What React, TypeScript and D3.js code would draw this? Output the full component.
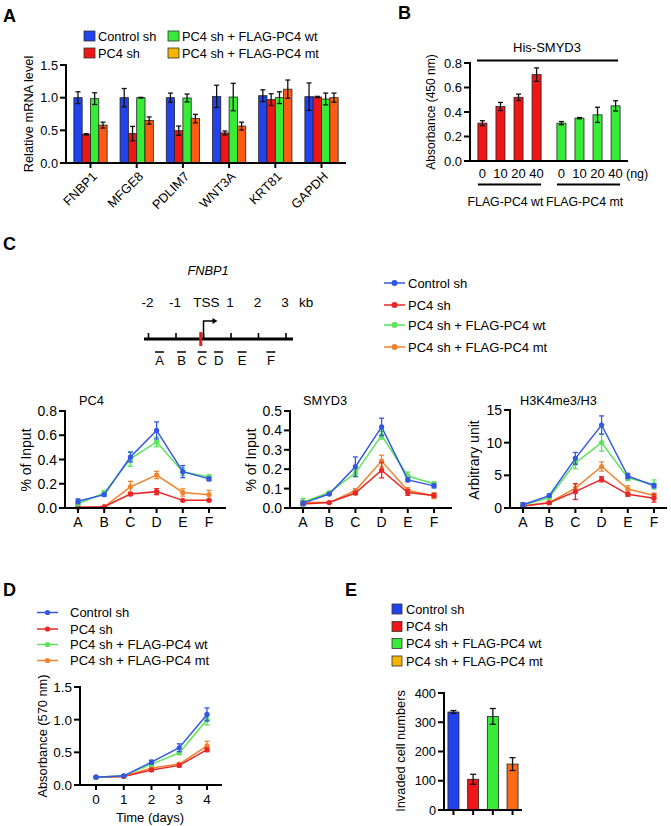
import React from 'react';
import * as d3 from 'd3';

const FONT = '"Liberation Sans", Arial, Helvetica, sans-serif';

// ---------- shared ----------
const groupNames = ['Control sh', 'PC4 sh', 'PC4 sh + FLAG-PC4 wt', 'PC4 sh + FLAG-PC4 mt'];
const barColors = ['#2242ee', '#ee1616', '#36ec36', '#ff5a16'];
const swatchColors = ['#2242ee', '#ee1616', '#36ec36', '#f6b400'];
const lineColors = ['#3456e4', '#ea2626', '#5ae45a', '#f2832e'];

// ---------- panel A ----------
const genes = ['FNBP1', 'MFGE8', 'PDLIM7', 'WNT3A', 'KRT81', 'GAPDH'];
const aControl = [1.0, 1.0, 1.0, 1.02, 1.03, 1.015];
const aControlErr = [0.09, 0.14, 0.07, 0.17, 0.09, 0.21];
const aPC4 = [0.44, 0.45, 0.495, 0.46, 0.97, 1.01];
const aPC4Err = [0.01, 0.11, 0.07, 0.03, 0.09, 0.01];
const aWt = [0.985, 1.0, 0.995, 1.01, 1.0, 0.98];
const aWtErr = [0.09, 0.005, 0.06, 0.21, 0.09, 0.09];
const aMt = [0.58, 0.65, 0.68, 0.565, 1.13, 1.0];
const aMtErr = [0.045, 0.055, 0.065, 0.06, 0.14, 0.07];
const aTicks = [0, 0.5, 1.0, 1.5];

// ---------- panel B ----------
const bDoses = ['0', '10', '20', '40'];
const bGroups = ['FLAG-PC4 wt', 'FLAG-PC4 mt'];
const bWt = [0.309, 0.445, 0.52, 0.705];
const bWtErr = [0.02, 0.033, 0.026, 0.055];
const bMt = [0.309, 0.35, 0.377, 0.45];
const bMtErr = [0.013, 0.005, 0.062, 0.042];
const bTicks = [0, 0.2, 0.4, 0.6, 0.8];

// ---------- panel C ----------
const regions = ['A', 'B', 'C', 'D', 'E', 'F'];
const regionKb = [-1.6, -0.8, -0.05, 0.55, 1.4, 2.45];
const kbTicks = [-2, -1, 0, 1, 2, 3];
const kbLabels = ['-2', '-1', 'TSS', '1', '2', '3'];

const pc4Control = [0.055, 0.11, 0.42, 0.64, 0.3, 0.24];
const pc4ControlErr = [0.02, 0.012, 0.04, 0.07, 0.05, 0.015];
const pc4PC4 = [0.005, 0.01, 0.115, 0.135, 0.063, 0.063];
const pc4PC4Err = [0.005, 0.005, 0.012, 0.025, 0.006, 0.005];
const pc4Wt = [0.035, 0.125, 0.405, 0.545, 0.3, 0.255];
const pc4WtErr = [0.015, 0.02, 0.06, 0.04, 0.03, 0.02];
const pc4Mt = [0.008, 0.01, 0.175, 0.272, 0.128, 0.11];
const pc4MtErr = [0.008, 0.005, 0.045, 0.03, 0.03, 0.035];
const pc4Ticks = [0, 0.2, 0.4, 0.6, 0.8];

const smControl = [0.025, 0.072, 0.213, 0.418, 0.145, 0.114];
const smControlErr = [0.01, 0.005, 0.05, 0.045, 0.01, 0.01];
const smPC4 = [0.02, 0.028, 0.077, 0.195, 0.08, 0.065];
const smPC4Err = [0.005, 0.004, 0.008, 0.04, 0.015, 0.01];
const smWt = [0.03, 0.08, 0.18, 0.375, 0.165, 0.125];
const smWtErr = [0.02, 0.005, 0.02, 0.02, 0.02, 0.01];
const smMt = [0.03, 0.028, 0.09, 0.242, 0.09, 0.063];
const smMtErr = [0.01, 0.004, 0.01, 0.03, 0.015, 0.015];
const smTicks = [0, 0.1, 0.2, 0.3, 0.4, 0.5];

const hkControl = [0.5, 1.9, 7.6, 12.7, 4.9, 3.4];
const hkControlErr = [0.3, 0.2, 0.9, 1.4, 0.4, 0.3];
const hkPC4 = [0.3, 0.8, 2.5, 4.4, 2.1, 1.5];
const hkPC4Err = [0.2, 0.2, 1.2, 0.4, 0.3, 0.6];
const hkWt = [0.4, 1.6, 6.9, 10.0, 4.6, 3.6];
const hkWtErr = [0.3, 0.2, 0.9, 1.3, 0.4, 0.7];
const hkMt = [0.3, 0.8, 3.05, 6.35, 2.9, 1.9];
const hkMtErr = [0.5, 0.2, 0.7, 0.7, 0.5, 0.4];
const hkTicks = [0, 5, 10, 15];

// ---------- panel D ----------
const days = [0, 1, 2, 3, 4];
const dControl = [0.12, 0.14, 0.35, 0.57, 1.08];
const dControlErr = [0.01, 0.01, 0.03, 0.06, 0.1];
const dPC4 = [0.12, 0.13, 0.23, 0.3, 0.54];
const dPC4Err = [0.01, 0.01, 0.02, 0.02, 0.03];
const dWt = [0.12, 0.14, 0.32, 0.49, 1.0];
const dWtErr = [0.01, 0.01, 0.03, 0.02, 0.08];
const dMt = [0.12, 0.13, 0.26, 0.32, 0.6];
const dMtErr = [0.01, 0.01, 0.02, 0.02, 0.07];
const dTicks = [0, 0.5, 1.0, 1.5];

// ---------- panel E ----------
const eValues = [335, 105, 320, 157];
const eErr = [5, 17, 27, 22];
const eTicks = [0, 100, 200, 300, 400];

// ---------- helpers ----------
function YAxis({ x, scale, ticks, fmt, fontSize, tickLen = 6 }: any) {
  const [y0, y1] = scale.range();
  return (
    <g>
      <line x1={x} x2={x} y1={y0 + 1} y2={y1 - 1} stroke="#000" strokeWidth={2} />
      {ticks.map((t: number) => (
        <g key={t}>
          <line x1={x - tickLen} x2={x} y1={scale(t)} y2={scale(t)} stroke="#000" strokeWidth={2} />
          <text x={x - tickLen - 2} y={scale(t)} dy="0.36em" textAnchor="end" fontSize={fontSize}>
            {fmt(t)}
          </text>
        </g>
      ))}
    </g>
  );
}

function ErrBar({ x, lo, hi, w = 5, color = '#000', sw = 1.3 }: any) {
  return (
    <g stroke={color} strokeWidth={sw}>
      <line x1={x} x2={x} y1={lo} y2={hi} />
      <line x1={x - w / 2} x2={x + w / 2} y1={lo} y2={lo} />
      <line x1={x - w / 2} x2={x + w / 2} y1={hi} y2={hi} />
    </g>
  );
}

function VLabel({ x, y, text, fontSize }: any) {
  return (
    <text transform={`translate(${x},${y}) rotate(-90)`} textAnchor="middle" fontSize={fontSize}>
      {text}
    </text>
  );
}

function PanelLetter({ x, y, t }: any) {
  return (
    <text x={x} y={y} fontSize={18} fontWeight="bold">
      {t}
    </text>
  );
}

// ---------- Panel A ----------
function PanelA() {
  const y = d3.scaleLinear().domain([0, 1.5]).range([163, 65]);
  const xg = d3.scaleBand().domain(genes).range([66, 346]).paddingInner(0.28).paddingOuter(0.17);
  const xi = d3.scaleBand().domain(groupNames).range([0, xg.bandwidth()]);
  const vals = [aControl, aPC4, aWt, aMt];
  const errs = [aControlErr, aPC4Err, aWtErr, aMtErr];
  return (
    <g>
      <PanelLetter x={3} y={22} t="A" />
      {[0, 1].map((c) =>
        [0, 1].map((r) => {
          const k = c * 2 + r;
          const lx = c === 0 ? 84 : 168;
          const ly = r === 0 ? 36 : 53;
          return (
            <g key={k}>
              <rect x={lx} y={ly - 5} width={11} height={10} fill={swatchColors[k]} stroke="#333" strokeWidth={0.8} />
              <text x={lx + 14} y={ly} dy="0.36em" fontSize={12.8}>
                {groupNames[k]}
              </text>
            </g>
          );
        })
      )}
      {genes.map((g, gi) =>
        groupNames.map((s, si) => {
          const bx = (xg(g) as number) + (xi(s) as number);
          const w = xi.bandwidth();
          const v = vals[si][gi];
          const e = errs[si][gi];
          return (
            <g key={g + s}>
              <rect x={bx} y={y(v)} width={w} height={y(0) - y(v)} fill={barColors[si]} stroke="#222" strokeWidth={0.8} />
              <ErrBar x={bx + w / 2} lo={y(v - e)} hi={y(v + e)} w={5} color="#111" />
            </g>
          );
        })
      )}
      <YAxis x={66} scale={y} ticks={aTicks} fmt={d3.format('.1f')} fontSize={12.8} />
      <line x1={65} x2={346} y1={y(0)} y2={y(0)} stroke="#000" strokeWidth={2} />
      {genes.map((g) => {
        const cx = (xg(g) as number) + xg.bandwidth() / 2;
        return (
          <g key={g}>
            <line x1={cx} x2={cx} y1={y(0)} y2={y(0) + 5} stroke="#000" strokeWidth={2} />
            <text transform={`translate(${cx + 4},${174}) rotate(-45)`} textAnchor="end" dy="0.36em" fontSize={12.8}>
              {g}
            </text>
          </g>
        );
      })}
      <VLabel x={33} y={114} text="Relative mRNA level" fontSize={12.8} />
    </g>
  );
}

// ---------- Panel B ----------
function PanelB() {
  const y = d3.scaleLinear().domain([0, 0.8]).range([161, 63]);
  const xg = d3.scaleBand().domain(bGroups).range([470, 628]).paddingInner(0.2).paddingOuter(0.1);
  const xi = d3.scaleBand().domain(bDoses).range([0, xg.bandwidth()]).paddingInner(0.5).paddingOuter(0);
  const vals = [bWt, bMt];
  const errs = [bWtErr, bMtErr];
  const cols = [barColors[1], barColors[2]];
  return (
    <g>
      <PanelLetter x={398} y={19} t="B" />
      <text x={547} y={52} textAnchor="middle" fontSize={13}>
        His-SMYD3
      </text>
      <line x1={477} x2={618} y1={60.5} y2={60.5} stroke="#000" strokeWidth={2} />
      {bGroups.map((g, gi) => {
        const g0 = xg(g) as number;
        return (
          <g key={g}>
            {bDoses.map((d, di) => {
              const bx = g0 + (xi(d) as number);
              const w = xi.bandwidth();
              const v = vals[gi][di];
              const e = errs[gi][di];
              return (
                <g key={d}>
                  <rect x={bx} y={y(v)} width={w} height={y(0) - y(v)} fill={cols[gi]} stroke="#222" strokeWidth={0.8} />
                  <ErrBar x={bx + w / 2} lo={y(v - e)} hi={y(v + e)} w={5} color="#111" />
                  <text x={bx + w / 2} y={178} textAnchor="middle" fontSize={13}>
                    {d}
                  </text>
                </g>
              );
            })}
            <line x1={g0} x2={g0 + xg.bandwidth()} y1={184.5} y2={184.5} stroke="#000" strokeWidth={2} />
            <text x={g0 + xg.bandwidth() / 2 - 4} y={206} textAnchor="middle" fontSize={12.3}>
              {g}
            </text>
          </g>
        );
      })}
      <text x={626} y={178} fontSize={12.5}>
        (ng)
      </text>
      <YAxis x={470} scale={y} ticks={bTicks} fmt={d3.format('.1f')} fontSize={13} />
      <line x1={469} x2={628} y1={y(0)} y2={y(0)} stroke="#000" strokeWidth={2} />
      <VLabel x={435} y={112} text="Absorbance (450 nm)" fontSize={12} />
    </g>
  );
}

// ---------- Panel C ----------
function Schematic() {
  const kb = d3.scaleLinear().domain([-2, 3]).range([148.5, 286]);
  const ly = 339;
  return (
    <g>
      <PanelLetter x={3} y={250} t="C" />
      <text x={208} y={275} textAnchor="middle" fontSize={12.8} fontStyle="italic">
        FNBP1
      </text>
      {kbTicks.map((t, i) => (
        <g key={t}>
          <text x={kb(t) + (t === 0 ? 3 : -1)} y={307} textAnchor="middle" fontSize={13.5}>
            {kbLabels[i]}
          </text>
          <line x1={kb(t)} x2={kb(t)} y1={ly} y2={ly - 6} stroke="#000" strokeWidth={1.6} />
        </g>
      ))}
      <text x={299} y={307} fontSize={13.5}>
        kb
      </text>
      <line x1={144} x2={293} y1={ly} y2={ly} stroke="#000" strokeWidth={3} />
      <line x1={kb(-0.1)} x2={kb(-0.1)} y1={332} y2={346} stroke="#ee1c1c" strokeWidth={3} />
      <path d={`M${kb(0)},${ly} V${321} H${kb(0) + 10}`} fill="none" stroke="#000" strokeWidth={1.5} />
      <path d={`M${kb(0) + 14},321 l-5,-3 v6 z`} fill="#000" />
      {regions.map((r, i) => (
        <g key={r}>
          <line x1={kb(regionKb[i]) - 4.5} x2={kb(regionKb[i]) + 4.5} y1={352} y2={352} stroke="#000" strokeWidth={1.5} />
          <text x={kb(regionKb[i])} y={365} textAnchor="middle" fontSize={13}>
            {r}
          </text>
        </g>
      ))}
      {groupNames.map((g, i) => {
        const ys = [283, 305, 325, 347];
        return (
          <g key={g}>
            <line x1={384} x2={405} y1={ys[i]} y2={ys[i]} stroke={lineColors[i]} strokeWidth={1.5} />
            <circle cx={394.5} cy={ys[i]} r={3} fill={lineColors[i]} />
            <text x={408} y={ys[i]} dy="0.36em" fontSize={13}>
              {g}
            </text>
          </g>
        );
      })}
    </g>
  );
}

function LinePlot({ x0, xEnd, ptFirst, ptLast, yTop, yBot, domainMax, ticks, fmt, series, errs, title, titleX, ylabel, ylabelX }: any) {
  const y = d3.scaleLinear().domain([0, domainMax]).range([yBot, yTop]);
  const x = d3.scalePoint().domain(regions).range([ptFirst, ptLast]);
  const line = d3
    .line<number>()
    .x((_, i) => x(regions[i]) as number)
    .y((v) => y(v));
  const order = [3, 1, 2, 0];
  return (
    <g>
      <text x={titleX} y={405} fontSize={12.8}>
        {title}
      </text>
      {order.map((si) => (
        <g key={si}>
          {series[si].map((v: number, i: number) => (
            <ErrBar key={i} x={x(regions[i])} lo={y(Math.max(0, v - errs[si][i]))} hi={y(v + errs[si][i])} w={5} color={lineColors[si]} sw={1.3} />
          ))}
          <path d={line(series[si]) as string} fill="none" stroke={lineColors[si]} strokeWidth={1.5} />
          {series[si].map((v: number, i: number) => (
            <circle key={i} cx={x(regions[i])} cy={y(v)} r={2.6} fill={lineColors[si]} />
          ))}
        </g>
      ))}
      <YAxis x={x0} scale={y} ticks={ticks} fmt={fmt} fontSize={14} />
      <line x1={x0 - 1} x2={xEnd} y1={yBot} y2={yBot} stroke="#000" strokeWidth={2} />
      {regions.map((r) => (
        <g key={r}>
          <line x1={x(r)} x2={x(r)} y1={yBot} y2={yBot + 5} stroke="#000" strokeWidth={2} />
          <text x={x(r)} y={527} textAnchor="middle" fontSize={14}>
            {r}
          </text>
        </g>
      ))}
      <VLabel x={ylabelX} y={460} text={ylabel} fontSize={14} />
    </g>
  );
}

// ---------- Panel D ----------
function PanelD() {
  const y = d3.scaleLinear().domain([0, 1.5]).range([785, 687]);
  const x = d3.scaleLinear().domain([0, 4]).range([96, 207]);
  const series = [dControl, dPC4, dWt, dMt];
  const errs = [dControlErr, dPC4Err, dWtErr, dMtErr];
  const line = d3
    .line<number>()
    .x((_, i) => x(days[i]))
    .y((v) => y(v));
  const rows = [612.5, 629, 644.5, 660.5];
  return (
    <g>
      <PanelLetter x={3} y={596} t="D" />
      {groupNames.map((g, i) => (
        <g key={g}>
          <line x1={37} x2={58} y1={rows[i]} y2={rows[i]} stroke={lineColors[i]} strokeWidth={1.5} />
          <circle cx={47.5} cy={rows[i]} r={2.6} fill={lineColors[i]} />
          <text x={70} y={rows[i]} dy="0.36em" fontSize={13}>
            {g}
          </text>
        </g>
      ))}
      {[3, 1, 2, 0].map((si) => (
        <g key={si}>
          {series[si].map((v, i) => (
            <ErrBar key={i} x={x(days[i])} lo={y(v - errs[si][i])} hi={y(v + errs[si][i])} w={5} color={lineColors[si]} />
          ))}
          <path d={line(series[si]) as string} fill="none" stroke={lineColors[si]} strokeWidth={1.5} />
          {series[si].map((v, i) => (
            <circle key={i} cx={x(days[i])} cy={y(v)} r={2.6} fill={lineColors[si]} />
          ))}
        </g>
      ))}
      <YAxis x={80} scale={y} ticks={dTicks} fmt={d3.format('.1f')} fontSize={13.5} />
      <line x1={79} x2={222} y1={y(0)} y2={y(0)} stroke="#000" strokeWidth={2} />
      {days.map((d) => (
        <g key={d}>
          <line x1={x(d)} x2={x(d)} y1={y(0)} y2={y(0) + 5} stroke="#000" strokeWidth={2} />
          <text x={x(d)} y={804} textAnchor="middle" fontSize={13.5}>
            {d}
          </text>
        </g>
      ))}
      <text x={150} y={822} textAnchor="middle" fontSize={13}>
        Time (days)
      </text>
      <VLabel x={47} y={736} text="Absorbance (570 nm)" fontSize={12.8} />
    </g>
  );
}

// ---------- Panel E ----------
function PanelE() {
  const y = d3.scaleLinear().domain([0, 400]).range([810, 693]);
  const x = d3.scaleBand().domain(groupNames).range([444, 522]).paddingInner(0.44).paddingOuter(0.2);
  const rows = [609, 626.5, 643.5, 661];
  return (
    <g>
      <PanelLetter x={345} y={596} t="E" />
      {groupNames.map((g, i) => (
        <g key={g}>
          <rect x={392} y={rows[i] - 5} width={10} height={10} fill={swatchColors[i]} stroke="#333" strokeWidth={0.8} />
          <text x={406} y={rows[i]} dy="0.36em" fontSize={12.8}>
            {g}
          </text>
        </g>
      ))}
      {groupNames.map((g, i) => {
        const bx = x(g) as number;
        const w = x.bandwidth();
        const v = eValues[i];
        return (
          <g key={g}>
            <rect x={bx} y={y(v)} width={w} height={y(0) - y(v)} fill={i === 3 ? '#ff6a14' : barColors[i]} stroke="#222" strokeWidth={0.8} />
            <ErrBar x={bx + w / 2} lo={y(v - eErr[i])} hi={y(v + eErr[i])} w={6} color="#111" />
            <line x1={bx + w / 2} x2={bx + w / 2} y1={y(0)} y2={y(0) + 5} stroke="#000" strokeWidth={2} />
          </g>
        );
      })}
      <YAxis x={444} scale={y} ticks={eTicks} fmt={d3.format('d')} fontSize={12.8} />
      <line x1={443} x2={522} y1={y(0)} y2={y(0)} stroke="#000" strokeWidth={2} />
      <VLabel x={405} y={751} text="Invaded cell numbers" fontSize={12.8} />
    </g>
  );
}

export default function App() {
  const f1 = d3.format('.1f');
  const fInt = d3.format('d');
  return (
    <svg
      width={671}
      height={826}
      viewBox="0 0 671 826"
      style={{ position: 'absolute', left: 0, top: 0, background: '#fff', fontFamily: FONT }}
      fontFamily={FONT}
    >
      <rect x={0} y={0} width={671} height={826} fill="#fff" />
      <PanelA />
      <PanelB />
      <Schematic />
      <LinePlot
        x0={65}
        xEnd={226}
        ptFirst={78}
        ptLast={209}
        yTop={411}
        yBot={508}
        domainMax={0.8}
        ticks={pc4Ticks}
        fmt={f1}
        series={[pc4Control, pc4PC4, pc4Wt, pc4Mt]}
        errs={[pc4ControlErr, pc4PC4Err, pc4WtErr, pc4MtErr]}
        title="PC4"
        titleX={79}
        ylabel="% of Input"
        ylabelX={31}
      />
      <LinePlot
        x0={290}
        xEnd={452}
        ptFirst={303}
        ptLast={434}
        yTop={411}
        yBot={508}
        domainMax={0.5}
        ticks={smTicks}
        fmt={f1}
        series={[smControl, smPC4, smWt, smMt]}
        errs={[smControlErr, smPC4Err, smWtErr, smMtErr]}
        title="SMYD3"
        titleX={303}
        ylabel="% of Input"
        ylabelX={256}
      />
      <LinePlot
        x0={510}
        xEnd={667}
        ptFirst={523}
        ptLast={654}
        yTop={410}
        yBot={508}
        domainMax={15}
        ticks={hkTicks}
        fmt={fInt}
        series={[hkControl, hkPC4, hkWt, hkMt]}
        errs={[hkControlErr, hkPC4Err, hkWtErr, hkMtErr]}
        title="H3K4me3/H3"
        titleX={520}
        ylabel="Arbitrary unit"
        ylabelX={479}
      />
      <PanelD />
      <PanelE />
    </svg>
  );
}
